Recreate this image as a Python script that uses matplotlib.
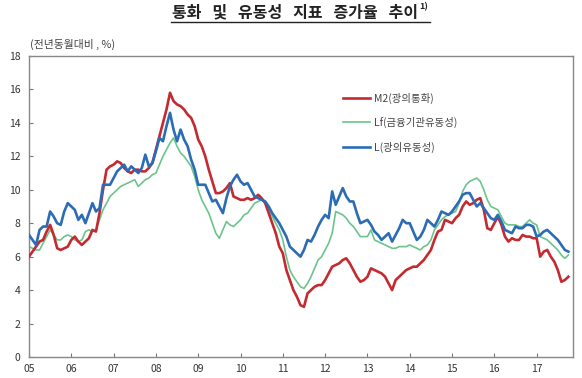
import matplotlib
matplotlib.use("Agg")
import matplotlib.pyplot as plt
import numpy as np

plt.rcParams['font.family'] = ['Noto Sans CJK KR', 'DejaVu Sans']

title = "통화   및   유동성   지표   증가율   추이"
unit_label = "(전년동월대비 , %)"
series_names = ["M2(광의통화)", "Lf(금융기관유동성)", "L(광의유동성)"]
year_labels = ["05", "06", "07", "08", "09", "10", "11", "12", "13", "14", "15", "16", "17"]

# monthly, 2005.01 - 2017.10
m2 = [6.0, 6.3, 6.6, 6.9, 7.0, 7.5, 7.9, 7.3, 6.5, 6.4, 6.5, 6.6,
      7.0, 7.2, 6.9, 6.7, 6.9, 7.1, 7.6, 7.5, 8.6, 10.0, 11.2, 11.4,
      11.5, 11.7, 11.6, 11.3, 11.1, 11.0, 11.2, 11.2, 11.1, 11.1, 11.3, 11.6,
      12.4, 13.2, 14.0, 14.8, 15.8, 15.3, 15.1, 15.0, 14.8, 14.5, 14.3, 13.8,
      13.0, 12.6, 12.0, 11.2, 10.5, 9.8, 9.8, 9.9, 10.1, 10.4, 9.6, 9.5,
      9.4, 9.4, 9.5, 9.4, 9.5, 9.7, 9.5, 9.2, 8.6, 8.0, 7.4, 6.6,
      6.2, 5.2, 4.6, 4.0, 3.6, 3.1, 3.0, 3.8, 4.0, 4.2, 4.3, 4.3,
      4.6, 5.0, 5.4, 5.5, 5.6, 5.8, 5.9, 5.6, 5.2, 4.8, 4.5, 4.6,
      4.8, 5.3, 5.2, 5.1, 5.0, 4.8, 4.4, 4.0, 4.6, 4.8, 5.0, 5.2,
      5.3, 5.4, 5.4, 5.6, 5.8, 6.1, 6.4, 7.0, 7.5, 7.6, 8.2, 8.1,
      8.0, 8.3, 8.5, 9.0, 9.3, 9.1, 9.2, 9.4, 9.5, 8.8, 7.7, 7.6,
      8.0, 8.4, 7.9, 7.2, 6.9, 7.1, 7.0, 7.0, 7.3, 7.2, 7.2, 7.1,
      7.1, 6.0, 6.3, 6.4, 6.0, 5.7, 5.2, 4.5, 4.6, 4.8]

lf = [6.6, 6.5, 6.4, 6.4, 6.8, 7.2, 7.6, 7.3, 7.0, 7.0, 7.2, 7.3,
      7.2, 7.0, 6.9, 7.0, 7.5, 7.6, 7.5, 7.6, 8.2, 8.8, 9.2, 9.6,
      9.8, 10.0, 10.2, 10.3, 10.4, 10.5, 10.6, 10.2, 10.4, 10.6, 10.7, 10.9,
      11.0, 11.5, 12.0, 12.4, 12.8, 13.1, 12.6, 12.2, 12.0, 11.7, 11.4, 10.8,
      10.0, 9.4, 9.0, 8.6, 8.0, 7.4, 7.1, 7.6, 8.1, 7.9, 7.8, 8.0,
      8.2, 8.5, 8.6, 8.9, 9.2, 9.3, 9.4, 9.2, 8.8, 8.4, 8.0, 7.6,
      7.0, 6.0, 5.2, 4.8, 4.5, 4.2, 4.1, 4.4, 4.8, 5.3, 5.8, 6.0,
      6.4, 6.8, 7.4, 8.7, 8.6, 8.5, 8.3, 8.0, 7.8, 7.5, 7.2, 7.2,
      7.2, 7.6, 7.0, 6.9, 6.8, 6.7, 6.6, 6.5, 6.5, 6.6, 6.6, 6.6,
      6.7, 6.6, 6.5, 6.4, 6.6, 6.7, 7.0, 7.6, 7.9, 8.2, 8.4, 8.5,
      8.6, 8.7, 9.2, 9.9, 10.3, 10.5, 10.6, 10.7, 10.5, 10.0, 9.4, 9.0,
      8.9, 8.8, 8.4, 8.0, 7.9, 7.9, 7.9, 7.8, 7.8, 8.0, 8.2, 8.0,
      7.9, 7.2, 7.1, 7.0, 6.8, 6.6, 6.4, 6.1, 5.9, 6.1]

l = [7.3, 7.0, 6.7, 7.6, 7.8, 7.8, 8.7, 8.4, 8.0, 7.9, 8.7, 9.2,
     9.0, 8.8, 8.2, 8.5, 8.0, 8.6, 9.2, 8.7, 8.9, 10.3, 10.3, 10.3,
     10.7, 11.1, 11.3, 11.5, 11.1, 11.4, 11.2, 11.0, 11.3, 12.1, 11.4, 11.6,
     12.3, 13.1, 12.9, 13.8, 14.6, 13.6, 12.9, 13.6, 13.0, 12.6, 11.8, 11.2,
     10.3, 10.3, 10.3, 9.8, 9.3, 9.4, 9.0, 8.6, 9.5, 10.2, 10.6, 10.9,
     10.5, 10.3, 10.4, 10.0, 9.6, 9.5, 9.4, 9.3, 9.0, 8.6, 8.3, 8.0,
     7.6, 7.2, 6.6, 6.4, 6.2, 6.0, 6.4, 7.0, 6.9, 7.3, 7.8, 8.2,
     8.5, 8.3, 9.9, 9.1, 9.6, 10.1, 9.6, 9.3, 9.3, 8.6, 8.0, 8.1,
     8.2, 7.9, 7.5, 7.3, 7.0, 7.2, 7.4, 6.9, 7.3, 7.7, 8.2, 8.0,
     8.0, 7.5, 7.0, 7.2, 7.6, 8.2, 8.0, 7.8, 8.2, 8.7, 8.6, 8.5,
     8.7, 9.0, 9.3, 9.7, 9.8, 9.8, 9.4, 9.0, 9.2, 8.9, 8.6, 8.3,
     8.2, 8.5, 8.1, 7.6, 7.5, 7.4, 7.8, 7.7, 7.7, 7.9, 7.9, 7.8,
     7.2, 7.3, 7.5, 7.6, 7.4, 7.2, 7.0, 6.7, 6.4, 6.3]

months = np.arange(len(m2))

W, H = 582, 378
fig = plt.figure(figsize=(W / 100, H / 100), dpi=100)
ax = fig.add_axes([0.0498, 0.0556, 0.9347, 0.7963])

ax.plot(months, lf, color='#6cc48c', lw=1.2, label=series_names[1], zorder=2)
ax.plot(months, m2, color='#c42a30', lw=1.9, label=series_names[0], zorder=3)
ax.plot(months, l, color='#2b6cb5', lw=1.9, label=series_names[2], zorder=4)

ax.set_xlim(0, 154.3)
ax.set_ylim(0, 18)
ax.set_yticks(np.arange(0, 19, 2))
ax.set_xticks(np.arange(0, 12 * len(year_labels), 12))
ax.set_xticklabels(year_labels)
ax.tick_params(direction='in', length=3, width=0.8, colors='#777777',
               labelcolor='#333333', labelsize=7.5)
ax.tick_params(axis='x', pad=5)
ax.tick_params(axis='y', pad=6)
for s in ax.spines.values():
    s.set_color('#888888')
    s.set_linewidth(1.0)

h, lab = ax.get_legend_handles_labels()
order = [1, 0, 2]
ax.legend([h[i] for i in order], [lab[i] for i in order], loc='upper left',
          bbox_to_anchor=(0.56, 0.91), frameon=False, fontsize=7.5,
          handlelength=2.6, labelspacing=1.3, handletextpad=0.35,
          labelcolor='#444444')

# title with superscript and underline
tx0 = 172 / W
tt = fig.text(tx0, 1 - 12 / H, title, ha='left', va='center', fontsize=11.5,
              fontweight='bold', color='#222222')
fig.canvas.draw()
r = fig.canvas.get_renderer()
bb = tt.get_window_extent(r)
x_end = bb.x1 / W
fig.text(x_end + 1 / W, 1 - 7 / H, "1)", ha='left', va='center', fontsize=6.5,
         fontweight='bold', color='#222222')
fig.add_artist(plt.Line2D([tx0 - 1 / W, x_end + 12 / W], [1 - 22 / H, 1 - 22 / H],
                          color='#222222', lw=1.0))
fig.text(30 / W, 1 - 44 / H, unit_label, ha='left', va='center', fontsize=7.8,
         color='#444444')

fig.savefig("out.png", dpi=100)
